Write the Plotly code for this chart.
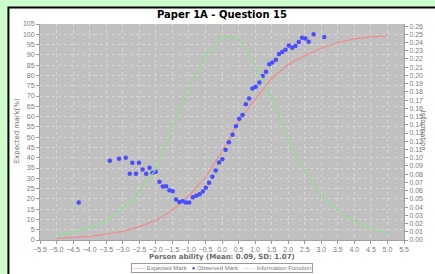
import plotly.graph_objects as go

# ---------------- data ----------------
curve_x = [-5.0, -4.5, -4.0, -3.5, -3.0, -2.5, -2.0, -1.5, -1.0, -0.5, 0.0,
           0.5, 1.0, 1.5, 2.0, 2.5, 3.0, 3.5, 4.0, 4.5, 5.0]
expected_mark = [0.8, 1.2, 1.8, 2.8, 4.2, 6.5, 9.5, 14.5, 21.5, 30.5, 43.0,
                 57.5, 68.5, 78.5, 85.3, 89.5, 93.3, 96.0, 97.8, 98.7, 99.2]
information = [0.006, 0.009, 0.0145, 0.023, 0.038, 0.058, 0.086, 0.138, 0.185, 0.224, 0.248,
               0.245, 0.213, 0.172, 0.123, 0.085, 0.053, 0.036, 0.023, 0.014, 0.008]

obs_x = [-4.33, -3.39, -3.11, -2.91, -2.79, -2.71, -2.60, -2.51, -2.40, -2.29, -2.19,
         -2.10, -2.00, -1.89, -1.79, -1.69, -1.59, -1.49, -1.39, -1.29, -1.19, -1.09,
         -0.99, -0.88, -0.78, -0.68, -0.58, -0.49, -0.39, -0.29, -0.19, -0.09, 0.01,
         0.11, 0.21, 0.32, 0.42, 0.52, 0.62, 0.72, 0.82, 0.92, 1.02, 1.13, 1.23,
         1.33, 1.43, 1.52, 1.63, 1.72, 1.82, 1.92, 2.02, 2.12, 2.22, 2.32, 2.42,
         2.52, 2.62, 2.77, 3.09]
obs_y = [18.2, 38.5, 39.5, 40.0, 32.2, 37.6, 32.2, 37.6, 34.3, 32.2, 35.1,
         32.7, 33.2, 28.3, 26.0, 26.1, 24.2, 23.7, 19.7, 18.5, 18.8, 18.2,
         18.2, 20.8, 21.5, 22.2, 23.6, 25.4, 27.8, 30.7, 33.8, 37.7, 39.2,
         43.9, 47.5, 51.2, 55.3, 59.0, 60.8, 66.0, 68.8, 73.7, 74.5, 76.6, 79.7,
         81.8, 85.4, 86.3, 87.6, 90.4, 91.4, 92.5, 94.6, 93.5, 94.3, 96.2, 98.3,
         98.0, 96.4, 100.0, 98.7]

title_text = "Paper 1A - Question 15"
x_title = "Person ability (Mean: 0.09, SD: 1.07)"
y_title = "Expected mark(%)"
y2_title = "Information"
series_names = ["Expected Mark", "Observed Mark", "Information Function"]

RED = "#f08c8c"
BLUE = "#4b4bff"
GREEN = "#8fe08f"
GRAY_TXT = "#7a7a7a"

W, H = 435, 274
L, R, T, B = 40, 26, 24, 34
PW, PH = W - L - R, H - T - B


def px(xp):
    return (xp - L) / PW


def py(yp):
    return (H - B - yp) / PH


fig = go.Figure()
fig.add_trace(go.Scatter(x=curve_x, y=expected_mark, mode="lines", name=series_names[0],
                         line=dict(color=RED, width=1.2), showlegend=False))
fig.add_trace(go.Scatter(x=obs_x, y=obs_y, mode="markers", name=series_names[1],
                         marker=dict(color=BLUE, size=4.5, line=dict(width=0)), showlegend=False))
fig.add_trace(go.Scatter(x=curve_x, y=information, mode="lines", name=series_names[2],
                         line=dict(color=GREEN, width=1.2), yaxis="y2", showlegend=False))

tickfont = dict(family="Liberation Sans", size=7, color=GRAY_TXT)
grid = dict(showgrid=True, gridcolor="#d6d6d6", gridwidth=1, griddash="dot")

fig.update_layout(
    width=W, height=H,
    margin=dict(l=L, r=R, t=T, b=B),
    paper_bgcolor="#ccffcc",
    plot_bgcolor="#c0c0c0",
    font=dict(family="Liberation Sans", size=7, color=GRAY_TXT),
    xaxis=dict(range=[-5.5, 5.5], dtick=0.5, tick0=-5.5, tickformat=".1f",
               ticks="outside", ticklen=3, tickcolor="#999999", tickfont=tickfont,
               showline=True, linecolor="#a0a0a0", zeroline=False, **grid),
    yaxis=dict(range=[0, 105], dtick=5, ticks="outside", ticklen=3, tickcolor="#999999",
               tickfont=tickfont, showline=True, linecolor="#a0a0a0", zeroline=False, **grid),
    yaxis2=dict(range=[0, 0.2625], dtick=0.01, tickformat=".2f", overlaying="y", side="right",
                ticks="outside", ticklen=3, tickcolor="#999999", tickfont=tickfont,
                showline=True, linecolor="#a0a0a0", showgrid=False, zeroline=False),
    shapes=[
        # white panel with black border
        dict(type="rect", xref="paper", yref="paper", layer="below",
             x0=px(8), x1=px(470), y0=py(300), y1=py(7.5),
             fillcolor="white", line=dict(color="black", width=2)),
        # plot area background
        dict(type="rect", xref="paper", yref="paper", layer="below",
             x0=0, x1=1, y0=0, y1=1, fillcolor="#c0c0c0", line=dict(width=0)),
    ],
    annotations=[
        dict(text="<b>" + title_text + "</b>", xref="paper", yref="paper",
             x=px(225), y=py(15), showarrow=False, xanchor="center", yanchor="middle",
             font=dict(family="DejaVu Sans", size=10, color="black")),
        dict(text="<b>" + x_title + "</b>", xref="paper", yref="paper",
             x=px(224), y=py(257), showarrow=False, xanchor="center", yanchor="middle",
             font=dict(family="DejaVu Sans", size=7, color="#6a6a6a")),
        dict(text=y_title, xref="paper", yref="paper", textangle=-90,
             x=px(17), y=py(131), showarrow=False, xanchor="center", yanchor="middle",
             font=dict(family="DejaVu Sans", size=7, color="#6a6a6a")),
        dict(text=y2_title, xref="paper", yref="paper", textangle=90,
             x=px(428), y=py(131), showarrow=False, xanchor="center", yanchor="middle",
             font=dict(family="DejaVu Sans", size=7, color="#6a6a6a")),
        dict(text=("<span style='color:%s'>——</span> %s   "
                   "<span style='color:%s'>●</span> %s   "
                   "<span style='color:%s'>——</span> %s")
             % (RED, series_names[0], BLUE, series_names[1], GREEN, series_names[2]),
             xref="paper", yref="paper", x=px(224), y=py(267.5), showarrow=False,
             xanchor="center", yanchor="middle", bgcolor="white",
             bordercolor="#9a9a9a", borderwidth=1, borderpad=1,
             font=dict(family="Liberation Sans", size=6, color=GRAY_TXT)),
    ],
)

fig.write_html("out.html", config={"displayModeBar": False},
               post_script="document.body.style.margin='0';document.body.style.padding='0';"
                           "document.body.style.overflow='hidden';")
